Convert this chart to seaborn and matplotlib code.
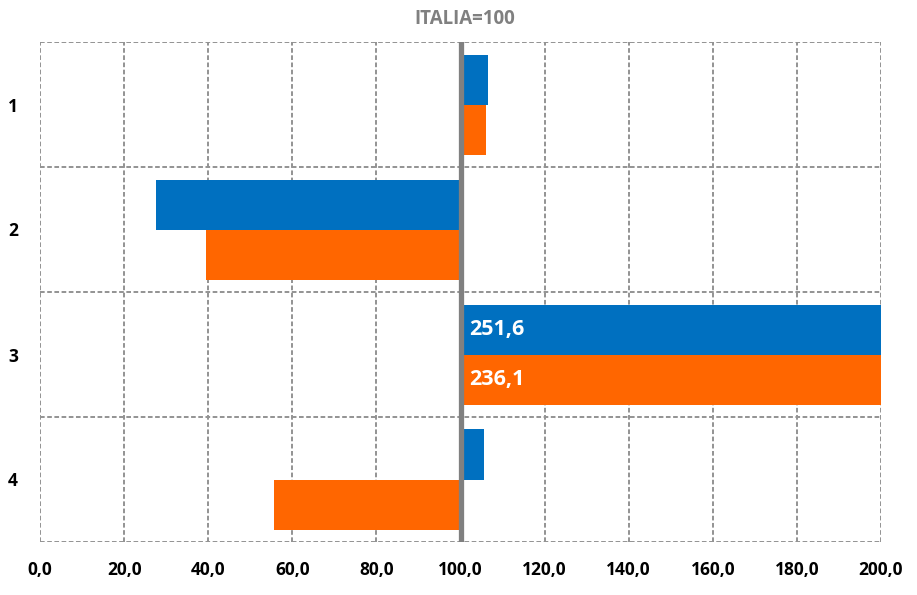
import matplotlib
matplotlib.use("Agg")
import matplotlib.pyplot as plt
import seaborn as sns
import pandas as pd
from matplotlib import font_manager

categories = ["1", "2", "3", "4"]
series_names = ["A", "B"]
blue_values = [106.5, 27.6, 251.6, 105.6]
orange_values = [106.0, 39.5, 236.1, 55.6]
baseline = 100.0
x_ticks = [0, 20, 40, 60, 80, 100, 120, 140, 160, 180, 200]
title = "ITALIA=100"
colors = ["#0070C0", "#FF6600"]

sns.set_theme(style="white")
avail = {f.name for f in font_manager.fontManager.ttflist}
fam = "Liberation Sans Narrow" if "Liberation Sans Narrow" in avail else "Open Sans"
plt.rcParams['font.family'] = [fam, 'DejaVu Sans']

df = pd.DataFrame({
    "cat": categories * 2,
    "series": [series_names[0]] * 4 + [series_names[1]] * 4,
    "value": blue_values + orange_values,
})
df["diff"] = df["value"] - baseline

fig = plt.figure(figsize=(9.17, 5.95), dpi=100)
ax = fig.add_axes([40 / 917, 53 / 595, 841 / 917, 500 / 595])

sns.barplot(data=df, y="cat", x="diff", hue="series", palette=colors,
            orient="h", width=0.8, ax=ax, legend=False, saturation=1,
            errorbar=None)
for p in ax.patches:
    p.set_x(p.get_x() + baseline)
    p.set_linewidth(0)

ax.set_xlim(0, 200)
ax.set_ylim(3.5, -0.5)
ax.set_xticks(x_ticks)
ax.set_xticklabels([f"{t:.1f}".replace(".", ",") for t in x_ticks],
                   fontsize=12.5, fontweight="bold", color="black")
ax.set_yticks(range(4))
ax.set_yticklabels(categories, fontsize=12.5, fontweight="bold", color="black")
ax.tick_params(axis="x", length=0, pad=14)
ax.tick_params(axis="y", length=0, pad=16)
ax.set_xlabel("")
ax.set_ylabel("")

gcol = "#939393"
for x in x_ticks:
    ax.axvline(x, color=gcol, lw=1.4, ls=(0, (2.4, 1.3)), zorder=0)
for y in [-0.5, 0.5, 1.5, 2.5, 3.5]:
    ax.axhline(y, color=gcol, lw=1.4, ls=(0, (2.4, 1.3)), zorder=0)
for s in ax.spines.values():
    s.set_visible(False)

ax.axvline(baseline, color="#808080", lw=3.8, zorder=5)

# labels for clipped bars
for i, (b, o) in enumerate(zip(blue_values, orange_values)):
    if b > 200:
        ax.text(102, i - 0.2, f"{b:.1f}".replace(".", ","), color="white",
                fontsize=15.5, fontweight="bold", va="center", ha="left", zorder=6)
    if o > 200:
        ax.text(102, i + 0.2, f"{o:.1f}".replace(".", ","), color="white",
                fontsize=15.5, fontweight="bold", va="center", ha="left", zorder=6)

fig.text(465 / 917, 1 - 19 / 595, title, ha="center", va="center",
         fontsize=13.5, fontweight="bold", color="#808080")

fig.savefig("out.png", dpi=100)
